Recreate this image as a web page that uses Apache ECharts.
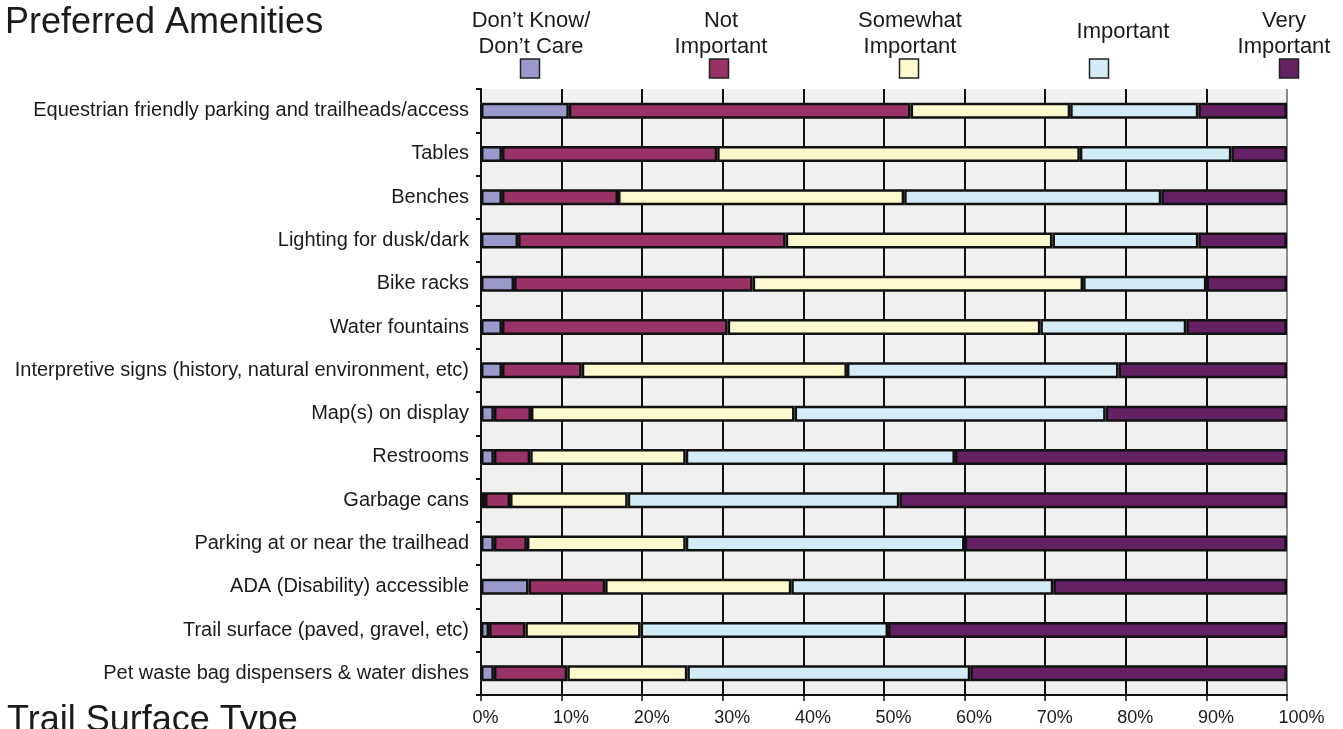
<!DOCTYPE html>
<html>
<head>
<meta charset="utf-8">
<script src="https://cdn.jsdelivr.net/npm/echarts@6/dist/echarts.min.js"></script>
<style>
  html, body { margin: 0; padding: 0; background: #ffffff; }
  #chart { width: 1343px; height: 729px; }
</style>
</head>
<body>
<div id="chart"></div>
<script>
// Survey: preferred trail amenities, share of responses per rating (%)
const categories = [
  'Equestrian friendly parking and trailheads/access',
  'Tables',
  'Benches',
  'Lighting for dusk/dark',
  'Bike racks',
  'Water fountains',
  'Interpretive signs (history, natural environment, etc)',
  'Map(s) on display',
  'Restrooms',
  'Garbage cans',
  'Parking at or near the trailhead',
  'ADA (Disability) accessible',
  'Trail surface (paved, gravel, etc)',
  'Pet waste bag dispensers & water dishes'
];

const dontKnow      = [10.9, 2.6, 2.6, 4.6, 4.1, 2.6, 2.6, 1.6, 1.6, 0.5, 1.6, 5.9, 1.0, 1.6];
const notImportant  = [42.4, 26.7, 14.4, 33.2, 29.6, 28.0, 9.9, 4.6, 4.5, 3.1, 4.1, 9.5, 4.5, 9.1];
const somewhat      = [19.8, 45.0, 35.5, 33.1, 41.0, 38.8, 32.9, 32.7, 19.3, 14.6, 19.7, 23.1, 14.3, 14.9];
const important     = [15.9, 18.8, 31.9, 18.1, 15.3, 18.1, 33.7, 38.6, 33.4, 33.7, 34.6, 32.5, 30.7, 35.1];
const veryImportant = [11.0, 6.9, 15.6, 11.0, 10.0, 12.5, 20.9, 22.5, 41.2, 48.1, 40.0, 29.0, 49.5, 39.3];

const seriesNames = ['Don\u2019t Know/\nDon\u2019t Care', 'Not\nImportant', 'Somewhat\nImportant', 'Important', 'Very\nImportant'];
const seriesColors = ['#9999cc', '#993366', '#fbf9cd', '#d4ecf5', '#632062'];
const seriesData = [dontKnow, notImportant, somewhat, important, veryImportant];

const xTicks = [0, 10, 20, 30, 40, 50, 60, 70, 80, 90, 100];

const FONT = '"Liberation Sans", Arial, Helvetica, sans-serif';
const TEXT = '#1b1b1b';

// legend layout: swatch centres and label anchor points along the top
const swatchX = [530, 719, 909, 1099, 1289];
const labelX = [531, 721, 910, 1123, 1284];

const chart = echarts.init(document.getElementById('chart'), null, { renderer: 'canvas' });

const legendGraphics = [];
seriesNames.forEach((name, i) => {
  const twoLines = name.indexOf('\n') >= 0;
  legendGraphics.push({
    type: 'text',
    position: [labelX[i], twoLines ? 34 : 31.5],
    style: {
      text: name, x: 0, y: 0,
      align: 'center', verticalAlign: 'middle',
      font: '22px ' + FONT, fill: TEXT, lineHeight: 26
    },
    silent: true
  });
  legendGraphics.push({
    type: 'rect',
    shape: { x: swatchX[i] - 9.5, y: 59, width: 19, height: 19 },
    style: { fill: seriesColors[i], stroke: '#222', lineWidth: 1.5 },
    silent: true
  });
});

const option = {
  animation: false,
  backgroundColor: '#ffffff',
  grid: {
    left: 481, right: 56, top: 89, bottom: 34,
    show: true, backgroundColor: '#f0f0f0', borderWidth: 0
  },
  xAxis: {
    type: 'value', min: 0, max: 100, interval: 10,
    axisLine: { show: true, lineStyle: { color: '#111', width: 2 } },
    axisTick: { show: true, length: 6, lineStyle: { color: '#111', width: 1.5 } },
    axisLabel: {
      align: 'center', margin: 14,
      formatter: v => '{t|' + v + '%}',
      rich: { t: { width: 17, align: 'left', color: TEXT, fontSize: 18, fontFamily: FONT } }
    },
    splitLine: {
      show: true,
      lineStyle: {
        color: xTicks.map(t => t === 100 ? '#8a8a8a' : '#111'),
        width: 2
      }
    }
  },
  yAxis: {
    type: 'category', data: categories, inverse: true,
    axisLine: { show: true, lineStyle: { color: '#111', width: 2 } },
    axisTick: { show: true, length: 5, lineStyle: { color: '#111', width: 2 } },
    axisLabel: { color: TEXT, fontSize: 20, fontFamily: FONT, margin: 12 },
    splitLine: { show: false }
  },
  series: seriesNames.map((name, i) => ({
    name: name,
    type: 'bar',
    stack: 'total',
    barWidth: 16,
    data: seriesData[i],
    itemStyle: { color: seriesColors[i], borderColor: '#111', borderWidth: 2.5 },
    emphasis: { disabled: true },
    z: 3
  })),
  graphic: [
    {
      type: 'text', position: [5, 23],
      style: { text: 'Preferred Amenities', x: 0, y: 0, verticalAlign: 'middle', font: '36px ' + FONT, fill: TEXT },
      silent: true
    },
    {
      type: 'text', position: [7, 721],
      style: { text: 'Trail Surface Type', x: 0, y: 0, verticalAlign: 'middle', font: '36px ' + FONT, fill: TEXT },
      silent: true
    }
  ].concat(legendGraphics)
};

chart.setOption(option);
</script>
</body>
</html>
